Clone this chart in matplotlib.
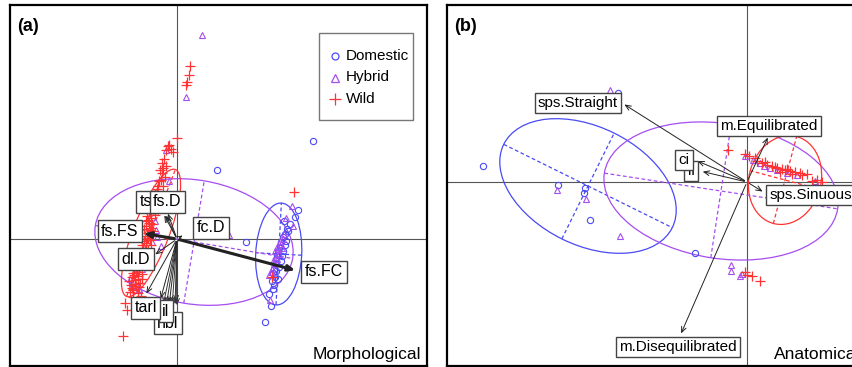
import numpy as np
import matplotlib
matplotlib.use("Agg")
import matplotlib.pyplot as plt
from matplotlib.patches import Ellipse, Rectangle

plt.rcParams['font.family'] = ['Liberation Sans', 'DejaVu Sans']

c_dom = '#4a4af5'
c_hyb = '#a64df0'
c_wild = '#ff3333'

# ---- panel (a) morphological: scores
wild_a_x = [13, 12, 10, 9, 0, -8, -4, -11, -9, -6,
            -14, -17, -11, -15, -16, -19, -14, -17, -20, -12,
            -27, -29, -26, -31, -27, -29, -32, -27, -31, -34,
            -29, -24, -22, -25, -30, -33, -28, -24, -26, -30,
            -36, -33, -38, -41, -44, -39, -42, -46, -41, -37,
            -44, -39, -36, -43, -40, -45, -48, -38, -50, -54,
            117, 95, -52, -35,
            -23, -21, -25, -28, -31, -26, -29, -33, -35, -32,
            -37, -40, -43, -39, -45, -42, -47, -40, -34, -30,
            -18, -15, -20, -13, -22, -27, -24, -35, -38, -44]
wild_a_y = [173, 164, 157, 154, 101, 94, 87, 89, 93, 90,
            71, 69, 73, 66, 59, 53, 53, 43, 48, 62,
            26, 19, 21, 13, 9, 6, 3, -1, -4, -9,
            -11, 30, 24, 15, 23, 10, 16, 4, -6, 0,
            -17, -14, -22, -31, -34, -37, -41, -46, -47, -44,
            -51, -54, -57, -28, -25, -38, -42, -31, -71, -97,
            47, -38, -64, -40,
            36, 40, 33, 28, 18, 11, 1, -2, -6, -12,
            -20, -28, -36, -40, -49, -45, -53, -33, -24, -16,
            58, 76, 50, 80, 45, 30, 8, -35, -48, -58]
hyb_a_x = [25, 9, -11, -8, 52, 109, 115, 116, -21, -16,
           -20, 93, 92, -45, -40, -38, -47, -22, -25,
           98, 100, 102, 104, 100, 97, 103, 106, 95, 99, 101, 96, 105, 94, 107, -35]
hyb_a_y = [204, 142, 89, 58, 4, 21, 33, 13, 9, -7,
           2, -61, -36, -44, -47, -50, -40, 18, -3,
           -12, -8, -15, -5, -20, -25, -2, 0, -30, -18, -10, -22, -9, -33, 5, -30]
dom_a_x = [136, 40, 69, 121, 88, 94, 118, 110, 108, 106, 104, 103, 101, 100, 99, 98, 97,
           96, 98, 95, 97, 99, 102, 104, 106, 108, 111, 113, 107, 92, 96, 101, 105, 109]
dom_a_y = [98, 69, -3, 29, -83, -67, 22, 10, 5, 2, -3, -8, -12, -16, -20, -25, -30,
           -34, -38, -42, -46, -32, -28, -22, -12, -6, 8, 15, 18, -55, -50, -40, -17, -2]

# ellipses: centre x, centre y, semi-major, semi-minor, angle (deg)
ell_a = {'Domestic': (101.7, -15, 51, 23, 87),
         'Hybrid': (17, -3, 100, 62, -9.5),
         'Wild': (-26, 6, 68, 18, 69)}

# variable arrows (a)
var_a = ['hbl', 'il', 'tarl', 'dl.D', 'fc.D', 'ts', 'fs.D', 'fs.FS', 'fs.FC']
arr_a_x = [-8, -17, -32, -24, 8, -14, -10, -36, 121]
arr_a_y = [-67, -62, -57, -17, 5, 26, 28, 6, -32]
lab_a_x = [-9, -11, -31.5, -41, 34, -31, -9.5, -57, 147]
lab_a_y = [-84, -72, -69, -20, 11, 37, 37, 8, -33]
thick_a = ['fs.FS', 'fs.FC']
# unlabelled arrows hidden under the label boxes
extra_a_x = [-14, -11, -5, -2, 0, -12, -1]
extra_a_y = [-67, -68, -68, -68, -69, 26, -66]

# ---- panel (b) anatomical: scores
wild_b_x = [-19, -2, 5, 13, -2, 0, 2, 10, 15, 20, 25, 30, 35, 38, 43, 48, 53, 60, 65, 75,
            8, 18, 28, 40, 55, 70, 33, 45]
wild_b_y = [32, 28, -94, -99, -90, -93, 26, 21, 19, 17, 16, 14, 13, 12, 11, 10, 9, 8, 1, 0,
            24, 20, 15, 13, 7, 2, 10, 8]
hyb_b_x = [-137, -190, -161, -127, -16, -16, -7, -5, -2, 13, 17, 23, 30, 68, 6, 40, 50]
hyb_b_y = [92, -8, -17, -54, -83, -89, -94, -92, 26, 19, 16, 14, 12, 1, 22, 9, 7]
dom_b_x = [-264, -189, -162, -163, -157, -52, -129]
dom_b_y = [16, -3, -6, -11, -38, -71, 89]

ell_b = {'Domestic': (-159, -4, 94, 59, -26.3),
         'Hybrid': (-26, -9, 118, 67.5, -8.7),
         'Wild': (38, 2, 45, 36, 75)}

var_b = ['m.Disequilibrated', 'sps.Sinuous', 'll', 'ci', 'm.Equilibrated', 'sps.Straight']
arr_b_x = [-67, 18, -47, -52, 22, -125]
arr_b_y = [-154, -11, 11, 22, 47, 79]
lab_b_x = [-69, 64, -56, -63, 22, -169]
lab_b_y = [-165, -13, 11, 22, 56, 79]

groups = ['Domestic', 'Hybrid', 'Wild']
colors = {'Domestic': c_dom, 'Hybrid': c_hyb, 'Wild': c_wild}
arrow_style = '->,head_length=0.4,head_width=0.17'


def draw_ellipse(ax, cx, cy, a, b, ang, col):
    ax.add_patch(Ellipse((cx, cy), 2 * a, 2 * b, angle=ang, fill=False, ec=col, lw=0.9, zorder=2))
    t = np.deg2rad(ang)
    u = np.array([np.cos(t), np.sin(t)])
    v = np.array([-np.sin(t), np.cos(t)])
    for vec, s in ((u, a), (v, b)):
        p0 = np.array([cx, cy]) - s * vec
        p1 = np.array([cx, cy]) + s * vec
        ax.plot([p0[0], p1[0]], [p0[1], p1[1]], ls=(0, (3, 2)), color=col, lw=0.9, zorder=2)


def draw_points(ax, dx, dy, hx, hy, wx, wy):
    ax.plot(dx, dy, 'o', mfc='none', mec=c_dom, ms=4.5, mew=0.8, ls='none', zorder=3)
    ax.plot(hx, hy, '^', mfc='none', mec=c_hyb, ms=5, mew=0.8, ls='none', zorder=3)
    ax.plot(wx, wy, '+', color=c_wild, ms=7.5, mew=0.9, ls='none', zorder=3)


def frame(ax):
    ax.set_xticks([])
    ax.set_yticks([])
    for sp in ax.spines.values():
        sp.set_linewidth(1.6)
    ax.axhline(0, color='#555555', lw=0.8, zorder=1)
    ax.axvline(0, color='#555555', lw=0.8, zorder=1)


def box_label(ax, x, y, s, fs, z):
    ax.text(x, y, s, ha='center', va='center', fontsize=fs, zorder=z,
            bbox=dict(boxstyle='square,pad=0.22', fc='white', ec='#444444', lw=1))


fig = plt.figure(figsize=(8.53, 3.67), dpi=100)
W, H = 853, 367

# ---------- (a)
axa = fig.add_axes([10 / W, 1 / H, 417 / W, 361 / H])
axa.set_xlim(-167, 250)
axa.set_ylim(-127, 234)
frame(axa)
for g in groups:
    draw_ellipse(axa, *ell_a[g], colors[g])
draw_points(axa, dom_a_x, dom_a_y, hyb_a_x, hyb_a_y, wild_a_x, wild_a_y)
for ex, ey in zip(extra_a_x, extra_a_y):
    axa.annotate('', xy=(ex, ey), xytext=(0, 0),
                 arrowprops=dict(arrowstyle=arrow_style, color='#333333', lw=0.7), zorder=4)
for name, x, y in zip(var_a, arr_a_x, arr_a_y):
    lw = 2.2 if name in thick_a else 0.7
    axa.annotate('', xy=(x, y), xytext=(0, 0),
                 arrowprops=dict(arrowstyle=arrow_style, color='#222222', lw=lw), zorder=4)
for i, (name, lx, ly) in enumerate(zip(var_a, lab_a_x, lab_a_y)):
    box_label(axa, lx, ly, name, 11.5, 5 + i)

# legend drawn by hand (box is asymmetric in the original)
tA = axa.transAxes
axa.add_patch(Rectangle(((319 - 10) / 417, (366 - 120) / 361), 94 / 417, 87 / 361,
                        transform=tA, fill=True, fc='white', ec='#777777', lw=1.0, zorder=20))
leg_style = [dict(marker='o', mfc='none', mec=c_dom, ms=5, mew=0.9),
             dict(marker='^', mfc='none', mec=c_hyb, ms=6, mew=0.9),
             dict(marker='+', color=c_wild, ms=8, mew=0.9)]
for k, g in enumerate(groups):
    yy = (366 - (56 + 21.5 * k)) / 361
    axa.plot([(335 - 10) / 417], [yy], transform=tA, ls='none', zorder=21, clip_on=False, **leg_style[k])
    axa.text((346 - 10) / 417, yy, g, transform=tA, fontsize=11, va='center', ha='left', zorder=21)

axa.text(0.018, 0.965, '(a)', transform=tA, fontsize=13, fontweight='bold', va='top')
axa.text(0.985, 0.012, 'Morphological', transform=tA, fontsize=12.5, ha='right', va='bottom')

# ---------- (b)
axb = fig.add_axes([447 / W, 1 / H, 423 / W, 361 / H])
axb.set_xlim(-300, 123)
axb.set_ylim(-184, 177)
frame(axb)
for g in groups:
    draw_ellipse(axb, *ell_b[g], colors[g])
draw_points(axb, dom_b_x, dom_b_y, hyb_b_x, hyb_b_y, wild_b_x, wild_b_y)
for name, x, y in zip(var_b, arr_b_x, arr_b_y):
    axb.annotate('', xy=(x, y), xytext=(0, 0),
                 arrowprops=dict(arrowstyle=arrow_style, color='#222222', lw=0.7), zorder=4)
for i, (name, lx, ly) in enumerate(zip(var_b, lab_b_x, lab_b_y)):
    box_label(axb, lx, ly, name, 11, 5 + i)
axb.text(0.018, 0.965, '(b)', transform=axb.transAxes, fontsize=13, fontweight='bold', va='top')
axb.text(0.773, 0.012, 'Anatomical', transform=axb.transAxes, fontsize=12.5, ha='left', va='bottom')

fig.savefig('out.png', dpi=100)
